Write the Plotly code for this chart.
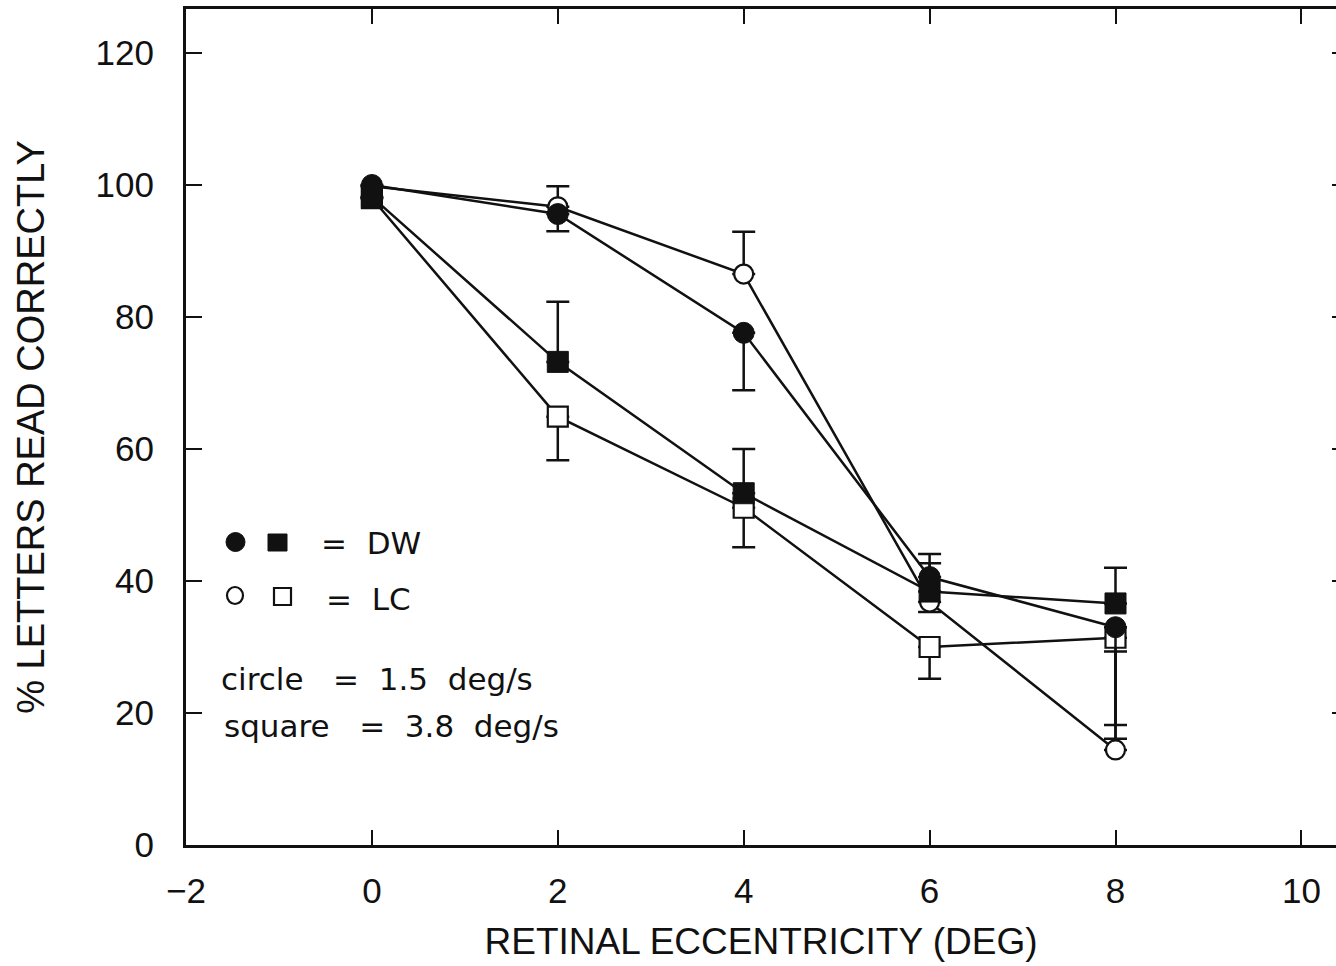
import plotly.graph_objects as go

# Retinal eccentricity (deg) at which letters were presented
ecc = [0, 2, 4, 6, 8]

# Observer DW, 1.5 deg/s (filled circles)
dw_circle = [100.0, 95.6, 77.6, 40.6, 33.0]
dw_circle_up = [0, 0, 0, 3.5, 0]
dw_circle_dn = [0, 2.6, 8.7, 0, 16.9]

# Observer DW, 3.8 deg/s (filled squares)
dw_square = [98.2, 73.2, 53.3, 38.4, 36.6]
dw_square_up = [0, 9.1, 6.7, 4.3, 5.4]
dw_square_dn = [0, 0, 0, 0, 0]

# Observer LC, 1.5 deg/s (open circles)
lc_circle = [99.8, 96.7, 86.5, 36.8, 14.4]
lc_circle_up = [0, 3.1, 6.4, 0, 14.9]
lc_circle_dn = [0, 0, 0, 1.5, 0]

# Observer LC, 3.8 deg/s (open squares)
lc_square = [98.0, 64.9, 51.1, 30.0, 31.4]
lc_square_up = [0, 0, 0, 0, 0]
lc_square_dn = [0, 6.6, 6.0, 4.8, 13.2]

x_ticks = [-2, 0, 2, 4, 6, 8, 10]
y_ticks = [0, 20, 40, 60, 80, 100, 120]

W, H = 1336, 966
ML, MR, MT, MB = 186, 0, 9, 121
PW, PH = W - ML - MR, H - MT - MB

INK = "#111111"
TICK_FONT = dict(family="Liberation Sans, Arial, sans-serif", size=35, color=INK)
XTITLE_FONT = dict(family="Liberation Sans, Arial, sans-serif", size=37, color=INK)
YTITLE_FONT = dict(family="Liberation Sans, Arial, sans-serif", size=38, color=INK)
KEY_FONT = dict(family="DejaVu Sans, sans-serif", size=31, color=INK)


def series(y, up, dn, symbol, filled, size):
    return go.Scatter(
        x=ecc, y=y, mode="lines+markers",
        line=dict(color=INK, width=2.5),
        marker=dict(symbol=symbol, size=size,
                    color=INK if filled else "white",
                    line=dict(color=INK, width=1 if filled else 2.2)),
        error_y=dict(type="data", symmetric=False, array=up, arrayminus=dn,
                     color=INK, thickness=2.5, width=11.5),
        showlegend=False, cliponaxis=False,
    )


fig = go.Figure()
# open symbols first so the filled ones sit on top where they overlap
fig.add_trace(series(lc_square, lc_square_up, lc_square_dn, "square", False, 20))
fig.add_trace(series(lc_circle, lc_circle_up, lc_circle_dn, "circle", False, 19))
fig.add_trace(series(dw_square, dw_square_up, dw_square_dn, "square", True, 21))
fig.add_trace(series(dw_circle, dw_circle_up, dw_circle_dn, "circle", True, 21))

# right-hand frame ticks (the frame edge runs off the page)
fig.add_trace(go.Scatter(x=[None], y=[None], yaxis="y2", showlegend=False))


def px(xp):
    return (xp - ML) / PW


def py(yp):
    return (MT + PH - yp) / PH


# key symbols
shapes = [
    dict(type="circle", xref="paper", yref="paper", x0=px(226), x1=px(245),
         y0=py(551.5), y1=py(532.5), fillcolor=INK, line=dict(color=INK, width=1)),
    dict(type="rect", xref="paper", yref="paper", x0=px(268), x1=px(287),
         y0=py(551), y1=py(534), fillcolor=INK, line=dict(color=INK, width=1)),
    dict(type="circle", xref="paper", yref="paper", x0=px(227), x1=px(243),
         y0=py(604), y1=py(587), fillcolor="white", line=dict(color=INK, width=2.2)),
    dict(type="rect", xref="paper", yref="paper", x0=px(274), x1=px(291),
         y0=py(605), y1=py(588), fillcolor="white", line=dict(color=INK, width=2.2)),
]

S2 = "\u00a0" * 2
S3 = "\u00a0" * 3
annotations = [
    dict(text=f"={S2}DW", x=px(319), y=py(543)),
    dict(text=f"={S2}LC", x=px(324), y=py(599)),
    dict(text=f"circle{S3}={S2}1.5{S2}deg/s", x=px(219), y=py(679)),
    dict(text=f"square{S3}={S2}3.8{S2}deg/s", x=px(222), y=py(726)),
]
for a in annotations:
    a.update(xref="paper", yref="paper", xanchor="left", yanchor="middle",
             showarrow=False, font=KEY_FONT)

fig.update_layout(
    width=W, height=H,
    margin=dict(l=ML, r=MR, t=MT, b=MB, autoexpand=False),
    paper_bgcolor="white", plot_bgcolor="white",
    shapes=shapes, annotations=annotations,
    xaxis=dict(
        range=[-2, -2 + PW / 92.95], tickvals=x_ticks,
        ticktext=[str(v) if v >= 0 else "\u2212" + str(-v) for v in x_ticks],
        ticks="inside", ticklen=15, tickwidth=2, tickcolor=INK,
        showline=True, linewidth=3, linecolor=INK, mirror="ticks",
        showgrid=False, zeroline=False, tickfont=TICK_FONT,
        ticklabelstandoff=13,
        title=dict(text="RETINAL ECCENTRICITY (DEG)", font=XTITLE_FONT, standoff=20),
    ),
    yaxis=dict(
        range=[0, PH / 6.6], tickvals=y_ticks,
        ticks="inside", ticklen=16, tickwidth=2, tickcolor=INK,
        showline=True, linewidth=3, linecolor=INK, mirror=False,
        showgrid=False, zeroline=False, tickfont=TICK_FONT,
        ticklabelstandoff=22,
        title=dict(text="% LETTERS READ CORRECTLY", font=YTITLE_FONT, standoff=40),
    ),
    yaxis2=dict(
        overlaying="y", side="right", anchor="x", matches="y",
        tickvals=y_ticks, ticks="inside", ticklen=4, tickwidth=2, tickcolor=INK,
        showticklabels=False, showline=False, showgrid=False, zeroline=False,
    ),
)

fig.write_html("out.html")
